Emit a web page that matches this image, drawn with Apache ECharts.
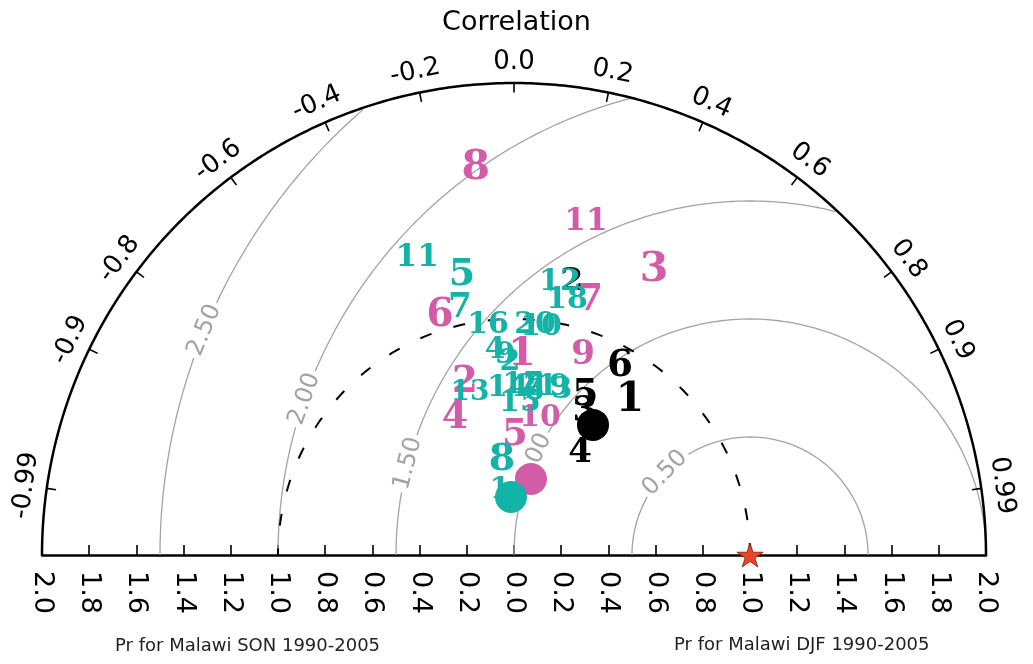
<!DOCTYPE html>
<html>
<head>
<meta charset="utf-8">
<script src="https://cdn.jsdelivr.net/npm/echarts@6/dist/echarts.min.js"></script>
<style>
  html, body { margin: 0; padding: 0; background: #fff; }
  #chart { width: 1033px; height: 664px; }
</style>
</head>
<body>
<div id="chart"></div>
<script>
// correlation ticks on the arc and RMS difference contour levels
var corrTicks = [-0.99, -0.9, -0.8, -0.6, -0.4, -0.2, 0.0, 0.2, 0.4, 0.6, 0.8, 0.9, 0.99];
var rmsLevels = [0.5, 1.0, 1.5, 2.0, 2.5];
var refStd = 1.0;
var maxStd = 2.0;

// magenta models
var pinkNames = ['8', '11', '3', '7', '6', '9', '1', '2', '4', '10', '5'];
var pinkStd = [1.648, 1.444, 1.345, 1.127, 1.060, 0.897, 0.848, 0.762, 0.632, 0.591, 0.508];
var pinkCorr = [-0.098, 0.211, 0.441, 0.286, -0.296, 0.326, 0.040, -0.273, -0.395, 0.187, 0.008];
var pinkMean = [0.330, 0.218]; // std, corr

// black models
var blackNames = ['2', '6', '1', '5', '3', '4'];
var blackStd = [1.183, 0.915, 0.820, 0.742, 0.677, 0.515];
var blackCorr = [0.208, 0.491, 0.599, 0.406, 0.445, 0.543];
var blackMean = [0.645, 0.519];

// teal models
var tealNames = ['11', '5', '7', '12', '18', '16', '20', '10', '4', '9', '2', '13',
  '14', '17', '21', '19', '3', '6', '15', '8', '1'];
var tealStd = [1.324, 1.207, 1.071, 1.173, 1.103, 0.981, 0.979, 0.973, 0.872, 0.848, 0.818, 0.711,
  0.708, 0.721, 0.719, 0.727, 0.728, 0.696, 0.645, 0.406, 0.282];
var tealCorr = [-0.310, -0.183, -0.214, 0.166, 0.204, -0.112, 0.091, 0.118, -0.092, -0.045, -0.021, -0.262,
  -0.036, 0.053, 0.136, 0.204, 0.279, 0.122, 0.039, -0.125, -0.211];
var tealMean = [0.246, -0.052];

// text sizes of the number markers (style)
var pinkFont = [41, 31, 41, 37, 39, 34, 40, 37, 38, 30, 37];
var blackFont = [32, 37, 41, 38, 36, 34];
var tealFont = [31, 38, 34, 30, 30, 30, 30, 30, 30, 30, 30, 28, 30, 30, 30, 30, 30, 30, 30, 38, 30];

var PINK = '#d35ca9';
var TEAL = '#14b3a7';
var GRAY = '#a3a3a3';
var FONT = 'DejaVu Sans';
var CLEAR = { color: 'rgba(0,0,0,0)', opacity: 1 };

function toXY(std, corr) {
  return [std * corr, std * Math.sqrt(1 - corr * corr)];
}

function arcPoints(cx, r, from, to, keep) {
  var pts = [];
  for (var i = 0; i <= 360; i++) {
    var a = from + (to - from) * i / 360;
    var x = cx + r * Math.cos(a), y = r * Math.sin(a);
    if (!keep || keep(x, y)) pts.push([x, y]);
  }
  return pts;
}

function markerSeries(names, stds, corrs, fonts, color, z) {
  return {
    type: 'scatter',
    z: z,
    clip: false,
    symbolSize: 1,
    itemStyle: CLEAR,
    silent: true,
    label: {
      show: true,
      position: 'inside',
      formatter: '{b}',
      color: color,
      fontFamily: 'DejaVu Serif',
      fontWeight: 'bold'
    },
    data: names.map(function (n, i) {
      return { name: n, value: toXY(stds[i], corrs[i]), label: { fontSize: fonts[i] } };
    })
  };
}

function meanSeries(m, color, z) {
  return {
    type: 'scatter',
    z: z,
    symbol: 'circle',
    symbolSize: 32,
    itemStyle: { color: color, opacity: 1 },
    data: [toXY(m[0], m[1])]
  };
}

var series = [];

// RMS contours centred on the reference point
var insideOuter = function (x, y) { return x * x + y * y <= maxStd * maxStd + 1e-9; };
rmsLevels.forEach(function (r) {
  series.push({
    type: 'line', z: 1, clip: false, showSymbol: false, silent: true,
    lineStyle: { color: GRAY, width: 1.3 },
    data: arcPoints(refStd, r, 0, Math.PI, insideOuter)
  });
});

// contour labels (angle along each contour, degrees)
var rmsLabelAngle = [136, 156, 165, 160.7, 157.6];
series.push({
  type: 'scatter', z: 2, symbolSize: 1, silent: true, clip: false,
  itemStyle: CLEAR,
  data: rmsLevels.map(function (r, i) {
    var a = rmsLabelAngle[i] * Math.PI / 180;
    return {
      value: [refStd + r * Math.cos(a), r * Math.sin(a)],
      label: {
        show: true, position: 'inside', formatter: r.toFixed(2),
        rotate: rmsLabelAngle[i] - 90, fontSize: 24, color: GRAY, fontFamily: FONT,
        backgroundColor: '#fff', padding: [0, 3]
      }
    };
  })
});

// reference std circle (dashed)
series.push({
  type: 'line', z: 3, clip: false, showSymbol: false, silent: true,
  lineStyle: { color: '#000', width: 2, type: [12, 23] },
  data: arcPoints(0, refStd, 0, Math.PI)
});

// outer arc
series.push({
  type: 'line', z: 5, clip: false, showSymbol: false, silent: true,
  lineStyle: { color: '#000', width: 2.5 },
  data: arcPoints(0, maxStd, 0, Math.PI)
});

// correlation ticks on the arc
series.push({
  type: 'custom', z: 5, clip: false, silent: true,
  data: corrTicks.map(function (c) { return [c, 0]; }),
  renderItem: function (params, api) {
    var t = Math.acos(api.value(0));
    var p1 = api.coord([maxStd * Math.cos(t), maxStd * Math.sin(t)]);
    var p2 = api.coord([(maxStd - 0.04) * Math.cos(t), (maxStd - 0.04) * Math.sin(t)]);
    return {
      type: 'line',
      shape: { x1: p1[0], y1: p1[1], x2: p2[0], y2: p2[1] },
      style: { stroke: '#000', lineWidth: 1.6 }
    };
  }
});

// correlation labels
series.push({
  type: 'scatter', z: 5, symbolSize: 1, silent: true, clip: false,
  itemStyle: CLEAR,
  data: corrTicks.map(function (c) {
    var t = Math.acos(c);
    return {
      value: [2.09 * Math.cos(t), 2.09 * Math.sin(t)],
      label: {
        show: true, position: 'inside', formatter: c.toFixed(c === 0.99 || c === -0.99 ? 2 : 1),
        rotate: t * 180 / Math.PI - 90, fontSize: 26, color: '#000', fontFamily: FONT
      }
    };
  })
});

// model markers
series.push(markerSeries(pinkNames, pinkStd, pinkCorr, pinkFont, PINK, 10));
series.push(meanSeries(pinkMean, PINK, 11));
series.push(markerSeries(blackNames, blackStd, blackCorr, blackFont, '#000', 12));
series.push(meanSeries(blackMean, '#000', 13));
series.push(markerSeries(tealNames, tealStd, tealCorr, tealFont, TEAL, 14));
series.push(meanSeries(tealMean, TEAL, 15));

// reference star
series.push({
  type: 'scatter', z: 16, clip: false,
  symbol: 'path://M50,0 L61,35 L98,35 L68,57 L79,91 L50,70 L21,91 L32,57 L2,35 L39,35 Z',
  symbolSize: [26, 24],
  itemStyle: { color: '#e8452a', borderColor: '#7a1a0a', borderWidth: 0.8, opacity: 1 },
  data: [[refStd, 0]]
});

var chart = echarts.init(document.getElementById('chart'));
chart.setOption({
  animation: false,
  backgroundColor: '#fff',
  title: {
    text: 'Correlation', left: 'center', top: 4,
    textStyle: { fontSize: 27, fontWeight: 'normal', color: '#000', fontFamily: FONT }
  },
  grid: { left: 42, right: 47, top: 83, bottom: 109 },
  xAxis: {
    type: 'value', min: -2, max: 2, interval: 0.2,
    splitLine: { show: false },
    axisLine: { onZero: false, lineStyle: { color: '#000', width: 2.5 } },
    axisTick: { inside: true, length: 10, lineStyle: { color: '#000', width: 1.6 } },
    axisLabel: {
      rotate: -90, margin: 16, fontSize: 27, color: '#000', fontFamily: FONT,
      formatter: function (v) { return Math.abs(v).toFixed(1); }
    }
  },
  yAxis: { type: 'value', min: 0, max: 2, show: false },
  graphic: [
    { type: 'text', left: 240 - 125, top: 637, style: { text: 'Pr for Malawi SON 1990-2005', fontSize: 18, fill: '#222', fontFamily: FONT } },
    { type: 'text', left: 799 - 125, top: 636, style: { text: 'Pr for Malawi DJF 1990-2005', fontSize: 18, fill: '#222', fontFamily: FONT } }
  ],
  series: series
});
</script>
</body>
</html>
